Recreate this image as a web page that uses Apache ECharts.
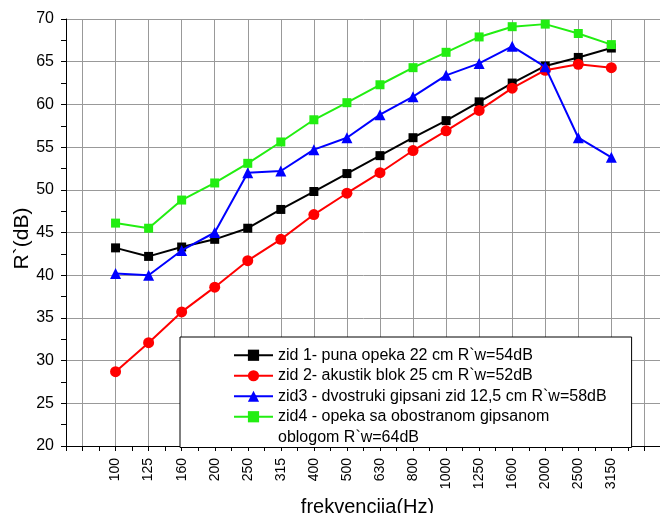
<!DOCTYPE html>
<html>
<head>
<meta charset="utf-8">
<script src="https://cdn.jsdelivr.net/npm/echarts@6/dist/echarts.min.js"></script>
<style>
html,body{margin:0;padding:0;background:#fff;}
#chart{width:660px;height:513px;}
</style>
</head>
<body>
<div id="chart"></div>
<script>
const categories = ['100','125','160','200','250','315','400','500','630','800','1000','1250','1600','2000','2500','3150'];
const zid1 = [43.2, 42.2, 43.3, 44.2, 45.5, 47.7, 49.8, 51.9, 54.0, 56.1, 58.1, 60.3, 62.5, 64.5, 65.5, 66.6];
const zid2 = [28.7, 32.1, 35.7, 38.6, 41.7, 44.2, 47.1, 49.6, 52.0, 54.6, 56.9, 59.3, 61.9, 64.0, 64.7, 64.3];
const zid3 = [40.2, 40.0, 42.9, 45.0, 52.0, 52.2, 54.7, 56.1, 58.8, 60.9, 63.4, 64.8, 66.8, 64.4, 56.1, 53.8];
const zid4 = [46.1, 45.5, 48.8, 50.8, 53.1, 55.6, 58.2, 60.2, 62.3, 64.3, 66.1, 67.9, 69.1, 69.4, 68.3, 67.0];
const names = [
  'zid 1- puna opeka 22 cm R`w=54dB',
  'zid 2- akustik blok 25 cm R`w=52dB',
  'zid3 - dvostruki gipsani zid 12,5 cm R`w=58dB',
  'zid4 - opeka sa obostranom gipsanom',
  'oblogom R`w=64dB'
];
const colors = ['#000000', '#ff0000', '#0000ff', '#22ee11'];
const symbols = ['rect', 'circle', 'triangle', 'rect'];
const symbolSizes = [9, 11, 11, 9];

const FONT = '"Liberation Sans", Arial, sans-serif';
const chart = echarts.init(document.getElementById('chart'), null, {renderer: 'canvas'});

const allSeries = [zid1, zid2, zid3, zid4];
const series = allSeries.map((arr, k) => ({
  name: names[k],
  type: 'line',
  xAxisIndex: 1,
  yAxisIndex: 1,
  data: arr.map((v, i) => [i, v]),
  symbol: symbols[k],
  symbolSize: symbolSizes[k],
  color: colors[k],
  lineStyle: {width: 2, color: colors[k]},
  itemStyle: {color: colors[k]},
  animation: false,
  z: 3 + k
}));
series.push({
  name: names[4],
  type: 'line',
  xAxisIndex: 1,
  yAxisIndex: 1,
  data: [],
  symbol: 'none',
  lineStyle: {opacity: 0},
  animation: false
});

chart.setOption({
  backgroundColor: '#fff',
  animation: false,
  grid: [
    {left: 66, right: -1, top: 19, bottom: 67, containLabel: false, outerBoundsMode: 'none'},
    {left: 82.5, right: 15.6, top: 19, bottom: 67, containLabel: false, outerBoundsMode: 'none'}
  ],
  xAxis: [
    {
      gridIndex: 0, type: 'value', min: -3, max: 33, interval: 1,
      axisLine: {show: true, onZero: false, lineStyle: {color: '#000', width: 1}},
      axisTick: {show: true, inside: false, length: 5, lineStyle: {color: '#000'}},
      axisLabel: {show: false},
      splitLine: {show: false},
      name: 'frekvencija(Hz)', nameLocation: 'middle', nameGap: 51,
      nameTextStyle: {fontSize: 20, color: '#000', fontFamily: FONT, padding: [0, 0, 0, 8]}
    },
    {
      gridIndex: 1, type: 'value', min: -1, max: 16, interval: 1,
      axisLine: {show: false, onZero: false},
      axisTick: {show: false},
      axisLabel: {
        show: true, rotate: 90, margin: 12, fontSize: 14, color: '#000', fontFamily: FONT,
        formatter: v => (categories[v] !== undefined ? categories[v] : '')
      },
      splitLine: {show: true, lineStyle: {color: '#999', width: 1}}
    }
  ],
  yAxis: [
    {
      gridIndex: 0, type: 'value', min: 20, max: 70, interval: 5,
      axisLine: {show: true, onZero: false, lineStyle: {color: '#000', width: 1}},
      axisTick: {show: true, inside: false, length: 5, lineStyle: {color: '#000'}},
      minorTick: {show: true, splitNumber: 2, length: 5, lineStyle: {color: '#000'}},
      axisLabel: {fontSize: 16, color: '#000', margin: 12, fontFamily: FONT},
      splitLine: {show: true, lineStyle: {color: '#999', width: 1}},
      name: 'R`(dB)', nameLocation: 'middle', nameGap: 33, nameRotate: 90,
      nameMoveOverlap: false,
      nameTextStyle: {fontSize: 21, color: '#000', fontFamily: FONT, padding: [0, 0, 0, -12]}
    },
    {
      gridIndex: 1, type: 'value', min: 20, max: 70, show: false,
      axisLine: {onZero: false}
    }
  ],
  legend: {
    orient: 'vertical',
    left: 180, top: 337,
    padding: [8, 25, 0, 53],
    borderColor: '#000', borderWidth: 1,
    backgroundColor: '#fff',
    itemWidth: 39, itemHeight: 14, itemGap: 0,
    textStyle: {fontSize: 16, color: '#000', lineHeight: 20.5, fontFamily: FONT},
    data: [
      {name: names[0]}, {name: names[1]}, {name: names[2]}, {name: names[3]},
      {name: names[4], icon: 'none'}
    ],
    selectedMode: false
  },
  series: series
});
</script>
</body>
</html>
